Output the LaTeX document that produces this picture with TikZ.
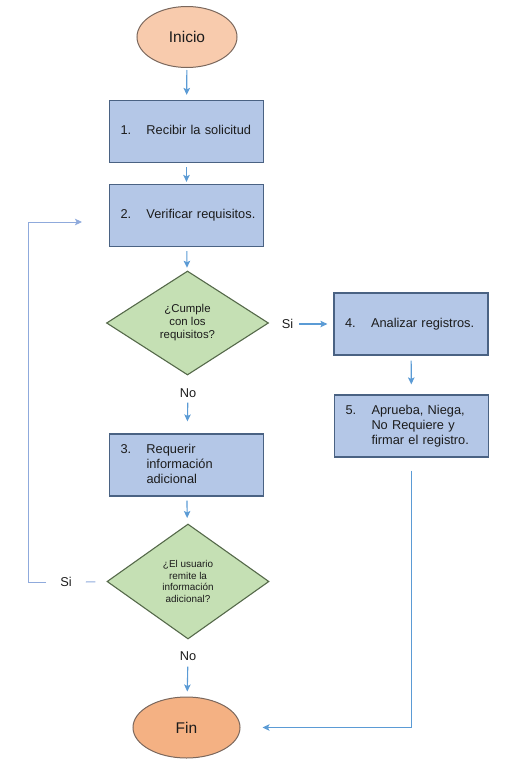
\documentclass[tikz,border=0pt]{standalone}
\usepackage{fontspec}
\setmainfont{Liberation Sans}
\usetikzlibrary{arrows.meta, shapes.geometric, positioning}

\definecolor{boxfill}{HTML}{B4C7E7}
\definecolor{boxline}{HTML}{4A6283}
\definecolor{decfill}{HTML}{C5E0B4}
\definecolor{decline}{HTML}{55694A}
\definecolor{inifill}{HTML}{F8CBAD}
\definecolor{finfill}{HTML}{F4B183}
\definecolor{termline}{HTML}{7A675C}
\definecolor{arrowblue}{HTML}{5B9BD5}
\definecolor{loopblue}{HTML}{8FAADC}
\definecolor{inktext}{HTML}{1C1C1C}

% number and hanging text inside a step box
\newcommand{\numitem}[2]{\makebox[26pt][l]{#1}\begin{tabular}[t]{@{}l@{}}#2\end{tabular}}

\begin{document}
\begin{tikzpicture}[
        x=1pt, y=-1pt,
        text=inktext,
        box/.style={
            draw=boxline, fill=boxfill, line width=1.2pt,
            minimum width=154pt, minimum height=62pt,
            text width=132pt, inner xsep=11pt, align=left,
            font=\fontsize{12.8}{15}\selectfont
        },
        decision/.style={
            diamond, draw=decline, fill=decfill, line width=1.1pt,
            minimum width=162pt, inner sep=0pt, align=center
        },
        terminal/.style={
            ellipse, draw=termline, line width=1pt,
            minimum width=100pt, minimum height=61pt,
            font=\fontsize{15.5}{18}\selectfont
        },
        flow/.style={
            draw=arrowblue, line width=1.1pt,
            -{Stealth[length=7pt, width=6.5pt, inset=1.5pt]},
            shorten <=4pt, shorten >=3pt
        },
        loopline/.style={draw=loopblue, line width=1pt},
        lbl/.style={font=\fontsize{12.8}{15}\selectfont, inner sep=2pt}
    ]
    \useasboundingbox (0,0) rectangle (509,766);

    \node[terminal, fill=inifill] (inicio) at (187,37) {Inicio};
    \node[box] (recibir) at (186.5,131.5) {\numitem{1.}{Recibir la solicitud}};
    \node[box] (verificar) at (186.5,215.5) {\numitem{2.}{Verificar requisitos.}};
    \node[decision, minimum height=104pt, font=\fontsize{11.4}{13}\selectfont]
        (cumple) at (187.5,323) {¿Cumple\\con los\\requisitos?};
    \node[lbl] (si1) at (287.5,324) {Si};
    \node[box] (analizar) at (411,324) {\numitem{4.}{Analizar registros.}};
    \node[box] (aprueba) at (411.5,426) {\numitem{5.}{Aprueba, Niega,\\No Requiere y\\firmar el registro.}};
    \node[lbl] (no1) at (188,393) {No};
    \node[box] (requerir) at (186.5,465) {\numitem{3.}{Requerir\\información\\adicional}};
    \node[decision, minimum height=115pt, font=\fontsize{9.9}{11.7}\selectfont]
        (remite) at (188,581.5) {¿El usuario\\remite la\\información\\adicional?};
    \node[lbl, inner xsep=14pt] (si2) at (66,582) {Si};
    \node[lbl] (no2) at (188,656) {No};
    \node[terminal, fill=finfill, minimum width=107pt] (fin) at (186.5,727.5) {Fin};

    \coordinate (loopCorner) at (28,582);
    \coordinate (loopEnd) at (82,222);

    \draw[flow, shorten <=2pt, shorten >=5pt] (inicio) -- (recibir);
    \draw[flow, shorten >=2pt] (recibir) -- (verificar);
    \draw[flow] (verificar) -- (cumple);
    \draw[flow, shorten >=6pt] (si1) -- (analizar);
    \draw[flow, shorten <=5pt, shorten >=10pt] (analizar) -- (aprueba);
    \draw[flow, shorten <=3pt, shorten >=12pt] (no1) -- (requerir);
    \draw[flow, shorten >=6pt] (requerir) -- (remite);
    \draw[flow, shorten >=5pt] (no2) -- (fin);
    \draw[flow, shorten <=13pt, shorten >=22pt] (aprueba.south) |- (fin.east);

    \draw[loopline, shorten <=11pt] (remite.west) -- (si2.east);
    \draw[loopline, -{Stealth[length=7pt, width=6.5pt, inset=1.5pt]}]
        (si2.west) -- (loopCorner) |- (loopEnd);
\end{tikzpicture}
\end{document}
